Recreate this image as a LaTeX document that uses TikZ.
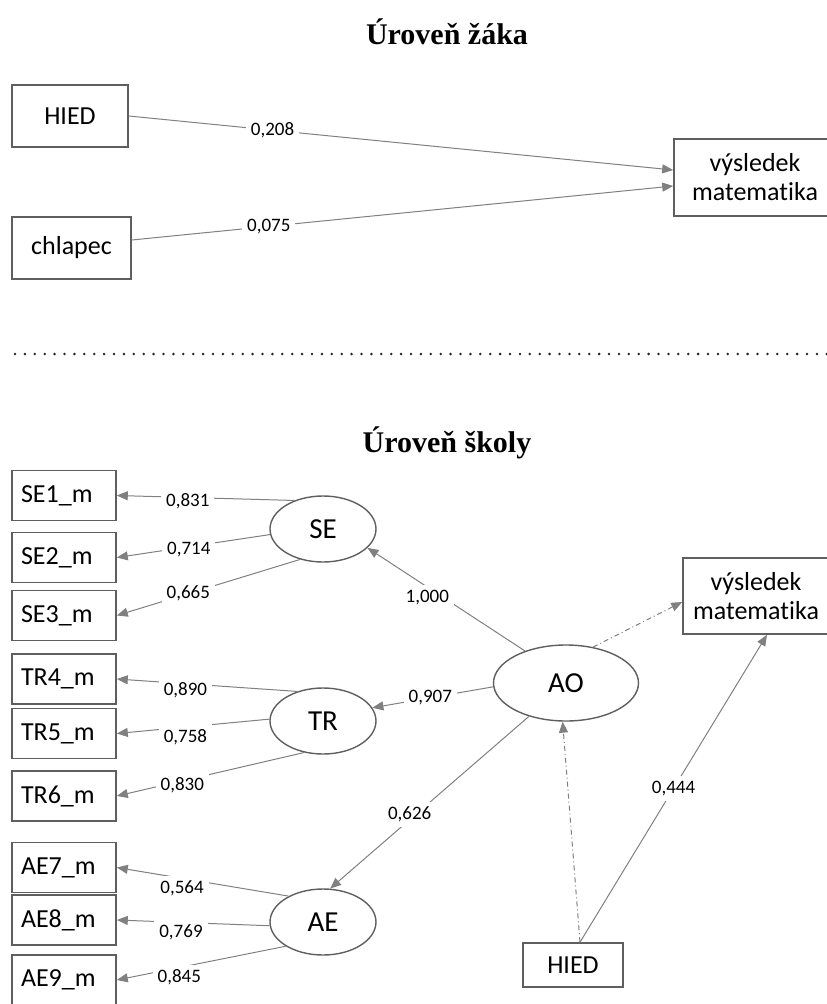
\documentclass[tikz,border=0pt]{standalone}
\usepackage{fontspec}
\setmainfont[Ligatures=NoCommon]{Carlito}
\newfontfamily\titlefont{Liberation Serif}
\usetikzlibrary{arrows.meta,shapes.geometric}
\definecolor{linegray}{RGB}{128,128,128}
\definecolor{framegray}{RGB}{95,95,95}
\tikzstyle{obs}=[rectangle,draw=framegray,line width=1.6pt,inner sep=0pt,font=\fontsize{26}{29}\selectfont]
\tikzstyle{ind}=[obs,minimum width=104pt,minimum height=50pt,text width=86pt,inner xsep=9pt,align=left]
\tikzstyle{lat}=[ellipse,draw=framegray,line width=1.4pt,minimum width=106pt,minimum height=66pt,inner sep=0pt,font=\fontsize{29}{32}\selectfont]
\tikzstyle{coef}=[fill=white,text=black,inner sep=5pt,font=\fontsize{19}{22}\selectfont]
\tikzstyle{heading}=[font=\titlefont\bfseries\fontsize{30}{34}\selectfont]
\tikzstyle{conn}=[linegray,line width=1pt]
\tikzstyle{dashdot}=[dash pattern=on 5pt off 3pt on 1pt off 3pt]
\tikzstyle{sep}=[black!85,line width=2.8pt,line cap=round,dash pattern=on 0pt off 9.9pt]

\begin{document}
\begin{tikzpicture}[x=1pt,y=-1pt,>={Triangle[length=11pt,width=9pt]}]
\useasboundingbox (0,0) rectangle (827,1004);

% student level
\node[heading] at (447,32) (t1) {Úroveň žáka};
\node[obs,minimum width=116pt,minimum height=62pt] at (70,116) (hied1) {HIED};
\node[obs,minimum width=119pt,minimum height=62pt] at (71.5,248) (boy) {chlapec};
\node[obs,minimum width=162pt,minimum height=77pt,align=center] at (755,177.5) (math1) {výsledek\\matematika};
\draw[conn] (hied1.east) edge[->] node[coef,pos=.264] {0,208} ([yshift=7.5pt]math1.west);
\draw[conn] ([yshift=8pt]boy.east) edge[->] node[coef,pos=.253] {0,075} ([yshift=-8.5pt]math1.west);

\draw[sep] (15,354) -- (827,354);

% school level
\node[heading] at (447,443) (t2) {Úroveň školy};
\node[ind] at (64,495.5) (se1) {SE1\_m};
\node[ind] at (64,557.5) (se2) {SE2\_m};
\node[ind] at (64,615.5) (se3) {SE3\_m};
\node[ind] at (64,679) (tr4) {TR4\_m};
\node[ind] at (64,733.5) (tr5) {TR5\_m};
\node[ind] at (64,796) (tr6) {TR6\_m};
\node[ind] at (64,867.5) (ae7) {AE7\_m};
\node[ind] at (64,920) (ae8) {AE8\_m};
\node[ind] at (64,980) (ae9) {AE9\_m};
\node[lat] at (323,529) (se) {SE};
\node[lat] at (323,721) (tr) {TR};
\node[lat] at (323,922) (ae) {AE};
\node[lat,minimum width=145pt,minimum height=76pt] at (566,683) (ao) {AO};
\node[obs,minimum width=146pt,minimum height=76pt,align=center] at (756,596) (math2) {výsledek\\matematika};
\node[obs,minimum width=100pt,minimum height=44pt] at (573,965) (hied2) {HIED};

\draw[conn] (se.135) edge[->] node[coef,pos=.6,yshift=-4pt] {0,831} (se1.east);
\draw[conn] (se.186) edge[->] node[coef,pos=.53,yshift=-3pt] {0,714} (se2.east);
\draw[conn] (se.233) edge[->] node[coef,pos=.61] {0,665} (se3.east);
\draw[conn] (tr.131) edge[->] node[coef,pos=.62,yshift=-6pt] {0,890} (tr4.east);
\draw[conn] (tr.178) edge[->] node[coef,pos=.55,yshift=-10pt] {0,758} (tr5.east);
\draw[conn] (tr.239) edge[->] node[coef,pos=.65,yshift=-4pt] {0,830} (tr6.east);
\draw[conn] (ae.143) edge[->] node[coef,pos=.62,yshift=-10pt] {0,564} (ae7.east);
\draw[conn] (ae.184) edge[->] node[coef,pos=.58,yshift=-10pt] {0,769} (ae8.east);
\draw[conn] (ae.213) edge[->] node[coef,pos=.63,yshift=-10pt] {0,845} (ae9.east);

\draw[conn] (ao.142) edge[->] node[coef,pos=.62,yshift=-10pt] {1,000} (se.337);
\draw[conn] (ao.183) edge[->] node[coef,pos=.52] {0,907} (tr.15);
\draw[conn] (ao.222) edge[->] node[coef,pos=.6,yshift=5pt] {0,626} (ae.78);
\draw[conn] (ao.53) edge[->, dashdot] ([yshift=-6pt]math2.west);
\draw[conn] ([xshift=7pt]hied2.north) edge[->, dashdot] (ao.265);
\draw[conn] ([xshift=7pt]hied2.north) edge[->] node[coef,pos=.5] {0,444} ([xshift=11pt]math2.south);
\end{tikzpicture}
\end{document}
